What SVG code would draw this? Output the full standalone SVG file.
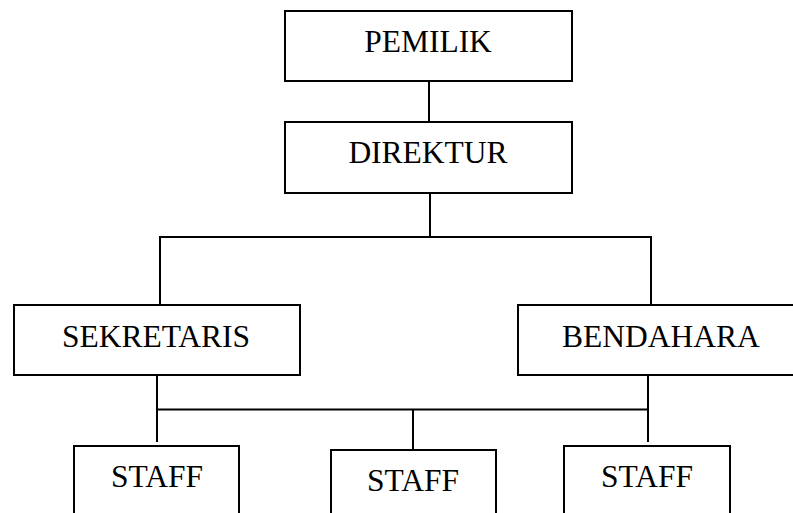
<svg xmlns="http://www.w3.org/2000/svg" width="793" height="513" viewBox="0 0 793 513">
<style>
.box{fill:#fff;stroke:#000;stroke-width:2}
.lbl{font-family:"Liberation Serif","Times New Roman",serif;font-size:31.5px;fill:#000;text-anchor:middle}
.ln{stroke:#000;stroke-width:2;fill:none}
</style>
<rect width="793" height="513" fill="#fff"/>
<g id="connectors">
<line class="ln" x1="429" y1="81" x2="429" y2="122"/>
<line class="ln" x1="430" y1="193" x2="430" y2="237"/>
<polyline class="ln" points="160,305 160,237 651,237 651,305"/>
<line class="ln" x1="157" y1="375" x2="157" y2="442"/>
<line class="ln" x1="648" y1="375" x2="648" y2="442"/>
<line class="ln" x1="157" y1="409.5" x2="648" y2="409.5"/>
<line class="ln" x1="413" y1="409.5" x2="413" y2="450"/>
</g>
<g id="pemilik"><rect class="box" x="285" y="11" width="287" height="70"/><text class="lbl" x="428" y="52">PEMILIK</text></g>
<g id="direktur"><rect class="box" x="285" y="122" width="287" height="71"/><text class="lbl" x="428" y="163">DIREKTUR</text></g>
<g id="sekretaris"><rect class="box" x="14" y="305" width="286" height="70"/><text class="lbl" x="156" y="347">SEKRETARIS</text></g>
<g id="bendahara"><rect class="box" x="518" y="305" width="287" height="70"/><text class="lbl" x="661" y="347">BENDAHARA</text></g>
<g id="staff1"><rect class="box" x="74" y="446" width="165" height="80"/><text class="lbl" x="157" y="487">STAFF</text></g>
<g id="staff2"><rect class="box" x="331" y="450" width="165" height="80"/><text class="lbl" x="413" y="491">STAFF</text></g>
<g id="staff3"><rect class="box" x="564" y="446" width="166" height="80"/><text class="lbl" x="647" y="487">STAFF</text></g>
</svg>
